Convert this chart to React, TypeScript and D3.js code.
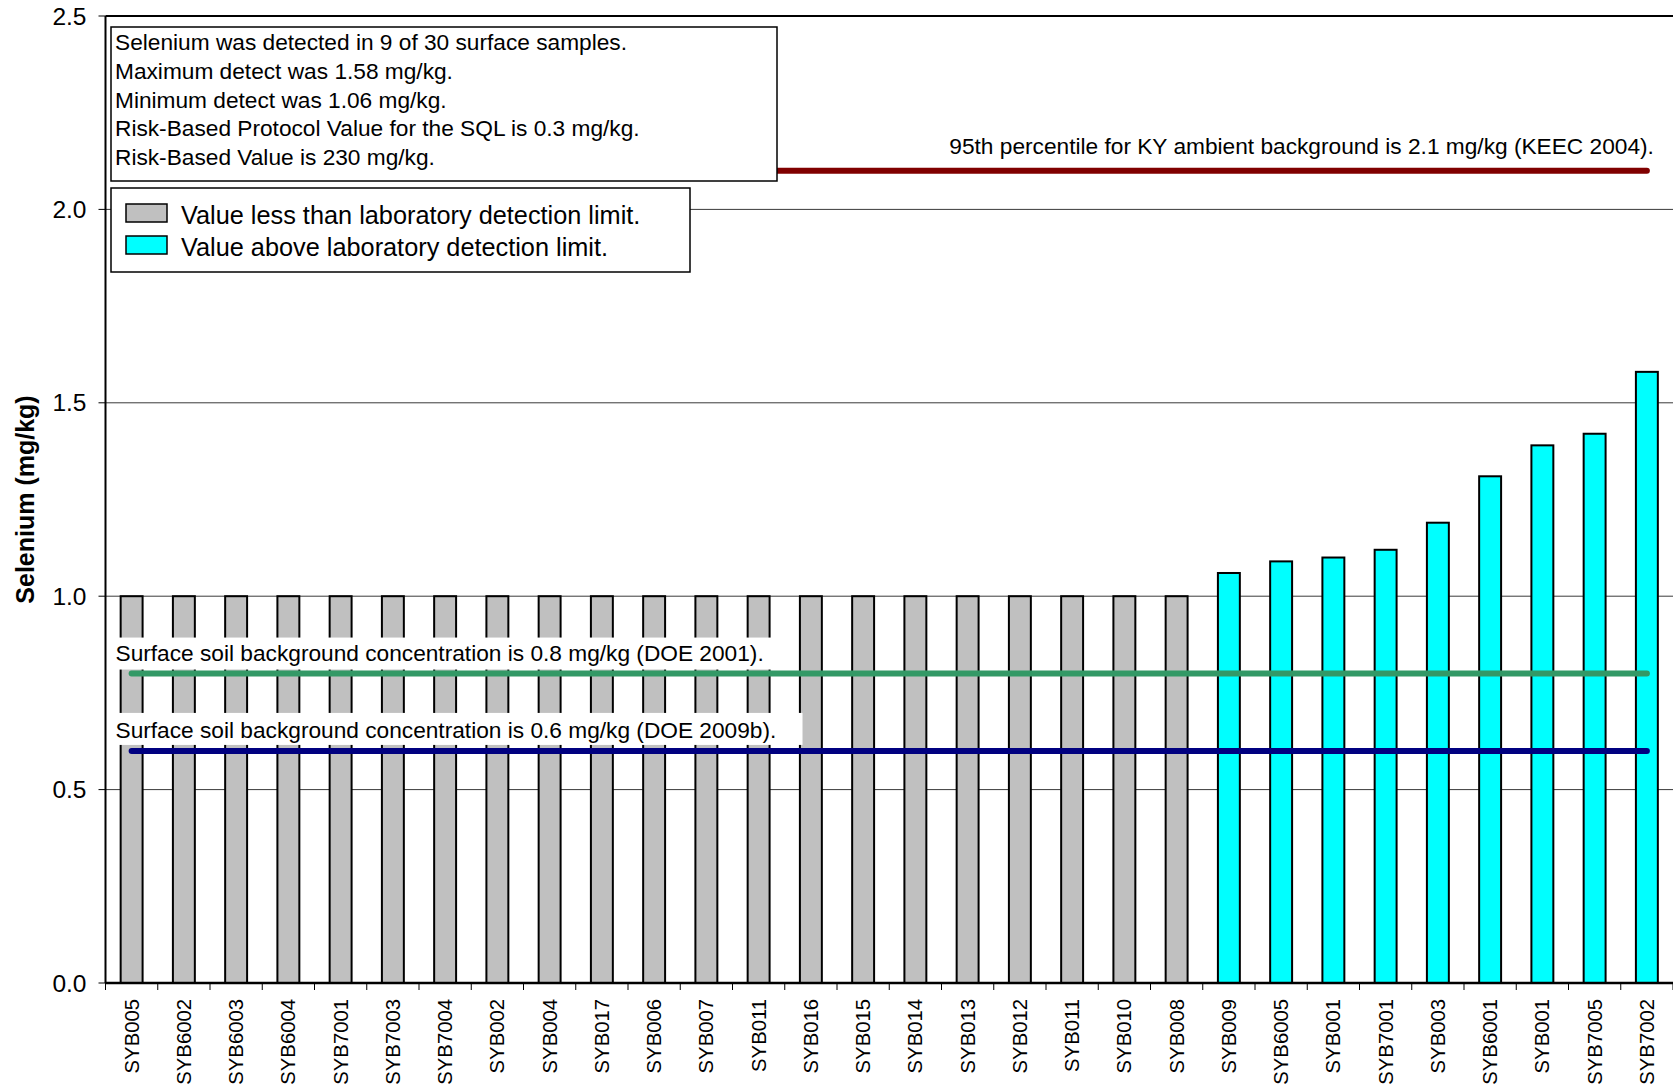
import React, { useEffect, useRef } from 'react';
import * as d3 from 'd3';

const SAMPLES = [
  'SYB005', 'SYB6002', 'SYB6003', 'SYB6004', 'SYB7001', 'SYB7003', 'SYB7004', 'SYB002',
  'SYB004', 'SYB017', 'SYB006', 'SYB007', 'SYB011', 'SYB016', 'SYB015', 'SYB014',
  'SYB013', 'SYB012', 'SYB011', 'SYB010', 'SYB008', 'SYB009', 'SYB6005', 'SYB001',
  'SYB7001', 'SYB003', 'SYB6001', 'SYB001', 'SYB7005', 'SYB7002',
];
const VALUES = [
  1.0, 1.0, 1.0, 1.0, 1.0, 1.0, 1.0, 1.0, 1.0, 1.0, 1.0, 1.0, 1.0, 1.0, 1.0, 1.0,
  1.0, 1.0, 1.0, 1.0, 1.0, 1.06, 1.09, 1.10, 1.12, 1.19, 1.31, 1.39, 1.42, 1.58,
];
// true = above detection limit
const DETECTED = VALUES.map((_, i) => i >= 21);
const Y_TICKS = [0, 0.5, 1.0, 1.5, 2.0, 2.5];

const REF_LINES = [
  { value: 2.1, color: '#800000', label: '95th percentile for KY ambient background is 2.1 mg/kg (KEEC 2004).' },
  { value: 0.8, color: '#339966', label: 'Surface soil background concentration is 0.8 mg/kg (DOE 2001).' },
  { value: 0.6, color: '#000080', label: 'Surface soil background concentration is 0.6 mg/kg (DOE 2009b).' },
];
const NOTES = [
  'Selenium was detected in 9 of 30 surface samples.',
  'Maximum detect was 1.58 mg/kg.',
  'Minimum detect was 1.06 mg/kg.',
  'Risk-Based Protocol Value for the SQL is 0.3 mg/kg.',
  'Risk-Based Value is 230 mg/kg.',
];
const LEGEND = [
  { label: 'Value less than laboratory detection limit.', color: '#c0c0c0' },
  { label: 'Value above laboratory detection limit.', color: '#00ffff' },
];

const FONT = 'Liberation Sans, Arial, sans-serif';

const App: React.FC = () => {
  const ref = useRef<SVGSVGElement>(null);

  useEffect(() => {
    if (!ref.current) return;
    const W = 1673, H = 1087;
    const left = 105.5, right = 1673, top = 16, bottom = 983;

    const svg = d3.select(ref.current);
    svg.selectAll('*').remove();
    svg.attr('width', W).attr('height', H).style('font-family', FONT);

    const x = d3.scaleBand<number>()
      .domain(d3.range(SAMPLES.length))
      .range([left, right])
      .paddingInner(0.58)
      .paddingOuter(0.29);
    const y = d3.scaleLinear().domain([0, 2.5]).range([bottom, top]);

    // gridlines
    svg.append('g').selectAll('line')
      .data(Y_TICKS.filter(t => t > 0 && t < 2.5))
      .enter().append('line')
      .attr('x1', left).attr('x2', right)
      .attr('y1', d => y(d)).attr('y2', d => y(d))
      .attr('stroke', '#3a3a3a').attr('stroke-width', 1);

    // top border
    svg.append('line')
      .attr('x1', left).attr('x2', right).attr('y1', y(2.5)).attr('y2', y(2.5))
      .attr('stroke', '#000').attr('stroke-width', 2);

    // bars
    svg.append('g').selectAll('rect')
      .data(VALUES)
      .enter().append('rect')
      .attr('x', (_, i) => x(i)!)
      .attr('y', d => y(d))
      .attr('width', x.bandwidth())
      .attr('height', d => bottom - y(d))
      .attr('fill', (_, i) => DETECTED[i] ? LEGEND[1].color : LEGEND[0].color)
      .attr('stroke', '#000').attr('stroke-width', 2);

    // label backgrounds for lower reference lines
    const labelBoxes = [
      { w: 665, dy: -36 },
      { w: 695, dy: -38 },
    ];
    REF_LINES.slice(1).forEach((r, k) => {
      svg.append('rect')
        .attr('x', left + 2).attr('y', y(r.value) + labelBoxes[k].dy)
        .attr('width', labelBoxes[k].w).attr('height', 32)
        .attr('fill', '#fff');
    });

    // reference lines
    const x0 = x(0)! + x.bandwidth() / 2;
    const x1 = x(SAMPLES.length - 1)! + x.bandwidth() / 2;
    svg.append('g').selectAll('line')
      .data(REF_LINES)
      .enter().append('line')
      .attr('x1', x0).attr('x2', x1)
      .attr('y1', d => y(d.value)).attr('y2', d => y(d.value))
      .attr('stroke', d => d.color).attr('stroke-width', 6)
      .attr('stroke-linecap', 'round');

    // reference labels
    svg.append('text')
      .attr('x', x1 + 7).attr('y', y(REF_LINES[0].value) - 25)
      .attr('text-anchor', 'end').attr('dominant-baseline', 'central')
      .attr('font-size', 22.7).text(REF_LINES[0].label);
    REF_LINES.slice(1).forEach(r => {
      svg.append('text')
        .attr('x', left + 10).attr('y', y(r.value) - 21)
        .attr('dominant-baseline', 'central')
        .attr('font-size', 22.7).text(r.label);
    });

    // notes box
    const notes = svg.append('g');
    notes.append('rect')
      .attr('x', 111).attr('y', 27).attr('width', 666).attr('height', 154)
      .attr('fill', '#fff').attr('stroke', '#000').attr('stroke-width', 1.5);
    notes.selectAll('text')
      .data(NOTES)
      .enter().append('text')
      .attr('x', 115).attr('y', (_, i) => 42 + i * 28.8)
      .attr('dominant-baseline', 'central')
      .attr('font-size', 22.7).text(d => d);

    // legend
    const lg = svg.append('g');
    lg.append('rect')
      .attr('x', 111).attr('y', 188).attr('width', 579).attr('height', 84)
      .attr('fill', '#fff').attr('stroke', '#000').attr('stroke-width', 1.5);
    LEGEND.forEach((l, i) => {
      lg.append('rect')
        .attr('x', 126).attr('y', 204 + i * 32).attr('width', 41).attr('height', 18)
        .attr('fill', l.color).attr('stroke', '#000').attr('stroke-width', 1.5);
      lg.append('text')
        .attr('x', 181).attr('y', 215 + i * 32)
        .attr('dominant-baseline', 'central')
        .attr('font-size', 25.3).text(l.label);
    });

    // y axis
    const yAxis = svg.append('g');
    yAxis.append('line')
      .attr('x1', left).attr('x2', left).attr('y1', top).attr('y2', bottom)
      .attr('stroke', '#000').attr('stroke-width', 2);
    yAxis.selectAll('line.tick')
      .data(Y_TICKS).enter().append('line')
      .attr('class', 'tick')
      .attr('x1', left - 7).attr('x2', left)
      .attr('y1', d => y(d)).attr('y2', d => y(d))
      .attr('stroke', '#000').attr('stroke-width', 1);
    yAxis.selectAll('text')
      .data(Y_TICKS).enter().append('text')
      .attr('x', left - 19).attr('y', d => y(d))
      .attr('text-anchor', 'end').attr('dominant-baseline', 'central')
      .attr('font-size', 24.5).text(d => d3.format('.1f')(d));
    svg.append('text')
      .attr('transform', `translate(25,${(top + bottom) / 2}) rotate(-90)`)
      .attr('text-anchor', 'middle').attr('dominant-baseline', 'central')
      .attr('font-size', 25).attr('font-weight', 'bold')
      .text('Selenium (mg/kg)');

    // x axis
    const xAxis = svg.append('g');
    xAxis.append('line')
      .attr('x1', left).attr('x2', right).attr('y1', bottom).attr('y2', bottom)
      .attr('stroke', '#000').attr('stroke-width', 2.5);
    xAxis.selectAll('line.tick')
      .data(d3.range(SAMPLES.length + 1)).enter().append('line')
      .attr('class', 'tick')
      .attr('x1', i => left + i * x.step()).attr('x2', i => left + i * x.step())
      .attr('y1', bottom).attr('y2', bottom + 7)
      .attr('stroke', '#000').attr('stroke-width', 1);
    xAxis.selectAll('text')
      .data(SAMPLES).enter().append('text')
      .attr('transform', (_, i) => `translate(${x(i)! + x.bandwidth() / 2},${bottom + 16}) rotate(-90)`)
      .attr('text-anchor', 'end').attr('dominant-baseline', 'central')
      .attr('font-size', 20.3).text(d => d);
  }, []);

  return (
    <div style={{ position: 'absolute', left: 0, top: 0, background: '#fff' }}>
      <svg ref={ref} style={{ display: 'block' }} />
    </div>
  );
};

export default App;
